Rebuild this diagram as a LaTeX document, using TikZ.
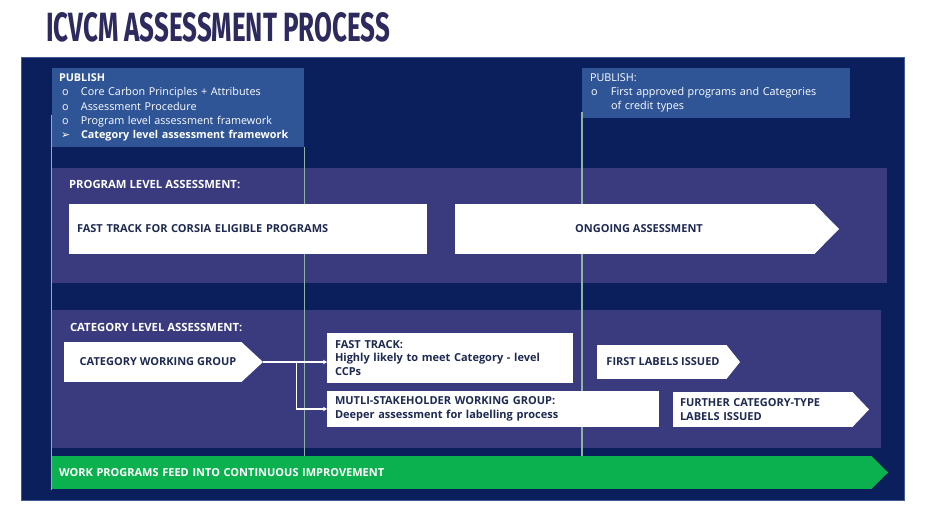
\documentclass[tikz,border=0pt]{standalone}
\usepackage{fontspec}
\usepackage{graphicx}
\setmainfont{Open Sans}
\newfontfamily\dejavu{DejaVu Sans}
\newfontfamily\titlefont{Fira Sans}
\usetikzlibrary{arrows.meta,calc}
\definecolor{navy}{HTML}{0C1F5D}
\definecolor{navyedge}{HTML}{3E5C96}
\definecolor{band}{HTML}{3A3A7E}
\definecolor{pubblue}{HTML}{2F5597}
\definecolor{titlec}{HTML}{2D2B5E}
\definecolor{txt}{HTML}{1E2A52}
\definecolor{vline}{HTML}{8FB3A3}
\definecolor{grn}{HTML}{0BB14F}
\newcommand\bul[2]{\makebox[#1][l]{#2}}
\newcommand\arrtip[3]{\fill[#3] ([xshift=-0.6pt]#1.north east) -- ([xshift=#2]#1.east) -- ([xshift=-0.6pt]#1.south east) -- cycle;}
\begin{document}
\begin{tikzpicture}[x=1pt,y=-1pt,
  every node/.style={inner sep=0pt, outer sep=0pt},
  panel/.style={anchor=north west},
  pubbox/.style={panel, fill=pubblue, text=white, align=left,
     font=\fontsize{10.8}{14.2}\selectfont},
  lbl/.style={anchor=west, text=white, font=\fontsize{11.3}{13}\selectfont\bfseries},
  wbox/.style={panel, fill=white, text=txt, font=\fontsize{11}{13.8}\selectfont\bfseries},
  vl/.style={draw=vline, line width=1.1pt},
  conn/.style={draw=white, line width=1.3pt, -{Stealth[length=4pt,width=4.5pt]}}]
\useasboundingbox (0,0) rectangle (926,510);
\fill[white] (0,0) rectangle (926,510);

% title
\node[anchor=south west, text=titlec] (title) at (46,42)
  {\resizebox{344pt}{29pt}{\titlefont\bfseries ICVCM ASSESSMENT PROCESS}};

% outer panel
\node[panel, fill=navy, draw=navyedge, line width=0.8pt,
  minimum width=883pt, minimum height=443pt] (outer) at (21,57) {};

% publish boxes
\node[pubbox, minimum height=79pt, text width=238pt, inner xsep=7pt] (pub1) at (52,68)
  {{\bfseries PUBLISH}\\
   \bul{22pt}{\hspace{3pt}o}Core Carbon Principles + Attributes\\
   \bul{22pt}{\hspace{3pt}o}Assessment Procedure\\
   \bul{22pt}{\hspace{3pt}o}Program level assessment framework\\
   {\bfseries\bul{22pt}{\hspace{2pt}\dejavu ➢}Category level assessment framework}};
\node[pubbox, minimum height=50pt, text width=252pt, inner xsep=8pt] (pub2) at (582,68)
  {PUBLISH:\\
   \bul{21pt}{\hspace{1pt}o}First approved programs and Categories\\
   \hspace*{21pt}of credit types};

% bands
\node[panel, fill=band, minimum width=835pt, minimum height=115pt] (pband) at (52,168) {};
\node[panel, fill=band, minimum width=829pt, minimum height=138pt] (cband) at (52,310) {};

% timeline lines
\draw[vl] (51.5,115) -- (51.5,490);
\draw[vl] (304.5,147) -- (304.5,456);
\draw[vl] (582,112) -- (582,456);

% program level
\node[lbl] (plab) at (69,184) {PROGRAM LEVEL ASSESSMENT:};
\node[wbox, minimum height=50pt, text width=342pt, inner xsep=8pt, align=left] (fastp) at (69,204)
  {FAST TRACK FOR CORSIA ELIGIBLE PROGRAMS};
\node[wbox, minimum height=50pt, minimum width=360pt] (ong) at (455,204)
  {\hspace{8pt}ONGOING ASSESSMENT};
\arrtip{ong}{24pt}{white}

% category level
\node[lbl] (clab) at (70,327) {CATEGORY LEVEL ASSESSMENT:};
\node[wbox, minimum height=40pt, minimum width=178pt] (cwg) at (64,342)
  {\hspace{10pt}CATEGORY WORKING GROUP};
\arrtip{cwg}{21pt}{white}
\coordinate (cwgtip) at ([xshift=21pt]cwg.east);

\node[wbox, minimum height=50pt, text width=230pt, inner xsep=8pt, align=left] (ft) at (327,333)
  {FAST TRACK:\\Highly likely to meet Category - level\\CCPs};
\node[wbox, minimum height=36pt, text width=316pt, inner xsep=8pt, align=left] (ms) at (327,391)
  {MUTLI-STAKEHOLDER WORKING GROUP:\\Deeper assessment for labelling process};

\node[wbox, minimum height=34pt, minimum width=130pt] (first) at (597,345)
  {\hspace{2pt}FIRST LABELS ISSUED};
\arrtip{first}{13pt}{white}
\node[wbox, minimum height=35pt, text width=166pt, inner xsep=7pt, align=left] (further) at (673,392)
  {FURTHER CATEGORY-TYPE\\LABELS ISSUED};
\arrtip{further}{16pt}{white}

\coordinate (br) at ($(cwgtip)!0.52!(cwgtip -| ft.west)$);
\draw[conn] (cwgtip) -- (cwgtip -| ft.west);
\draw[conn] (br) |- (ms.west);

% green bar
\node[panel, fill=grn, minimum height=33pt, text width=806pt, inner xsep=7pt, align=left,
  text=white, font=\fontsize{11}{13}\selectfont\bfseries] (grnbar) at (52,456)
  {WORK PROGRAMS FEED INTO CONTINUOUS IMPROVEMENT};
\arrtip{grnbar}{16pt}{grn}
\end{tikzpicture}
\end{document}
